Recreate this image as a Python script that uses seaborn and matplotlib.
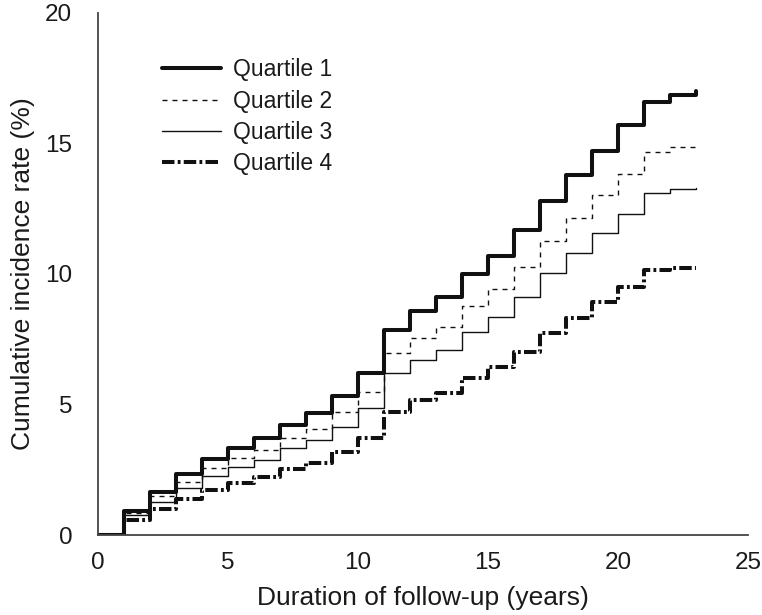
import matplotlib
matplotlib.use("Agg")
import matplotlib.pyplot as plt
import seaborn as sns
import pandas as pd

years = list(range(0, 24))
q1 = [0, 0.93, 1.66, 2.32, 2.92, 3.32, 3.70, 4.21, 4.66, 5.33, 6.22, 7.85, 8.60, 9.10, 10.0, 10.7, 11.7, 12.8, 13.8, 14.7, 15.7, 16.6, 16.85, 17.0]
q2 = [0, 0.84, 1.50, 2.02, 2.55, 2.94, 3.26, 3.70, 4.06, 4.72, 5.47, 6.96, 7.53, 7.98, 8.79, 9.41, 10.28, 11.28, 12.13, 13.03, 13.82, 14.68, 14.85, 14.85]
q3 = [0, 0.77, 1.28, 1.79, 2.27, 2.60, 2.87, 3.32, 3.64, 4.15, 4.85, 6.19, 6.70, 7.09, 7.79, 8.36, 9.13, 10.03, 10.79, 11.58, 12.30, 13.09, 13.26, 13.30]
q4 = [0, 0.57, 1.00, 1.38, 1.72, 1.98, 2.23, 2.53, 2.77, 3.17, 3.73, 4.72, 5.17, 5.43, 6.00, 6.45, 7.02, 7.73, 8.30, 8.94, 9.51, 10.15, 10.24, 10.24]
labels = ["Quartile 1", "Quartile 2", "Quartile 3", "Quartile 4"]
x_ticks = [0, 5, 10, 15, 20, 25]
y_ticks = [0, 5, 10, 15, 20]

sns.set_style("white")
plt.rcParams['font.family'] = ['Liberation Sans', 'DejaVu Sans']

fig = plt.figure(figsize=(7.62, 6.15), dpi=100)
ax = fig.add_axes([0.1286, 0.130, 0.853, 0.849])

styles = [
    dict(lw=2.9, ls='-'),
    dict(lw=1.0, ls=(0, (3.6, 3.6))),
    dict(lw=1.0, ls='-'),
    dict(lw=2.9, ls=(0, (3.1, 0.8, 0.7, 0.8))),
]
for vals, lab, st in zip([q1, q2, q3, q4], labels, styles):
    df = pd.DataFrame({"year": years, "rate": vals})
    sns.lineplot(data=df, x="year", y="rate", ax=ax, color="#111111",
                 linewidth=st['lw'], linestyle=st['ls'], drawstyle='steps-post',
                 label=lab)

text_c = '#1a1a1a'
ax.set_xlim(0, 25)
ax.set_ylim(0, 20)
ax.set_xticks(x_ticks)
ax.set_yticks(y_ticks)
ax.tick_params(axis='both', direction='out', length=5, width=1.3, color='#444444',
               labelsize=17.5, labelcolor=text_c)
ax.tick_params(axis='y', pad=13.5)
ax.tick_params(axis='x', pad=7)
for s in ['top', 'right']:
    ax.spines[s].set_visible(False)
for s in ['left', 'bottom']:
    ax.spines[s].set_color('#444444')
    ax.spines[s].set_linewidth(1.3)
ax.set_xlabel("Duration of follow-up (years)", fontsize=19, color=text_c, labelpad=9)
ax.set_ylabel("Cumulative incidence rate (%)", fontsize=19, color=text_c, labelpad=7)

leg = ax.legend(loc='upper left', bbox_to_anchor=(0.098, 0.913), frameon=False,
                borderpad=0, borderaxespad=0,
                fontsize=16.5, handlelength=2.6, handletextpad=0.5, labelspacing=0.36)
for t in leg.get_texts():
    t.set_color(text_c)

fig.savefig("out.png", dpi=100)
